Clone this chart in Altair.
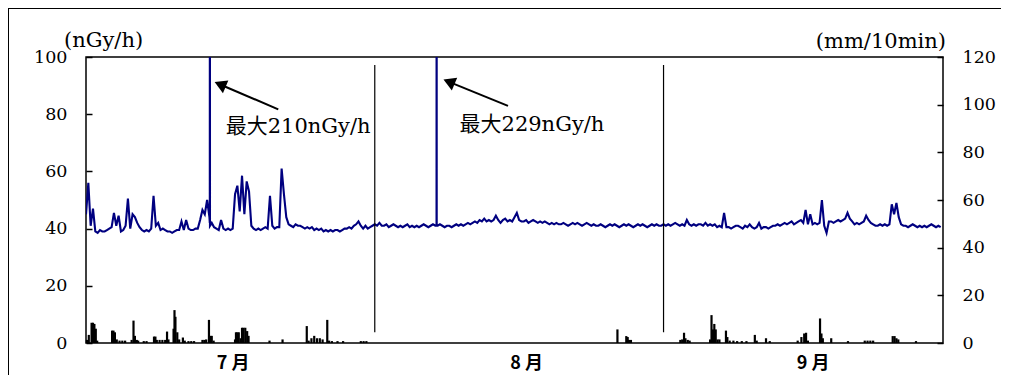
import altair as alt
import pandas as pd

# ---- dose rate (nGy/h), 4 readings per day (00, 06, 12, 18 h) ----
dose_jul = [
    45, 56, 41, 47,  39, 38.5, 39.5, 39,  39, 39.5, 40, 40.5,  45.5, 41, 44.5, 39,
    39.5, 41, 50.5, 40,  45, 44, 42, 40.5,  39.5, 39, 39.5, 39,  40, 51.5, 41, 42,
    39.5, 40, 39.5, 39,  39, 38.5, 39, 39.5,  39.5, 42.5, 39.5, 43,  40, 39.5, 39.5, 40,
    40, 43, 46.5, 45,  50, 44, 42, 40.5,  40, 39.5, 43, 40,  39.5, 40, 39.5, 40,
    52, 55, 46, 58.5,  45, 56.5, 53, 41,  40, 39.5, 40, 39.5,  40, 40.5, 40, 51.5,
    41, 40, 40.5, 40.5,  61, 52, 44, 41.5,  41, 40.5, 41.5, 41,  41, 40.5, 40, 40.5,
    40, 40.5, 39.5, 40,  39.5, 40, 39, 39.5,  39, 39.5, 39, 39.5,  39.5, 39, 39.5, 40,
    40, 40.5, 40, 41,  41.5, 42.5, 41, 40,  41, 40, 40.5, 41,
]
dose_aug = [
    41.5, 41, 42, 41,  41, 41.5, 40.5, 41,  41.5, 41, 40.5, 41,  40.5, 41, 41.5, 40.5,
    41, 40.5, 41, 40.5,  41, 41.5, 41, 40.5,  41, 41.5, 41, 41,  41.5, 41, 40.5, 41,
    41, 40.5, 41, 41.5,  41, 41.5, 41, 41.5,  42, 41.5, 42, 42.5,  42, 43, 42.5, 43.5,
    42.5, 43, 42.5, 43,  44.5, 43, 42, 43,  43.5, 42.5, 43, 42.5,  44, 45.5, 43, 42.5,
    42.5, 43, 42, 42.5,  43, 42.5, 42, 42.5,  42, 42.5, 42, 41.5,  42, 41.5, 42, 41.5,
    41.5, 42, 41.5, 41,  41.5, 42, 41.5, 42,  41.5, 41, 41.5, 42,  41.5, 41, 41.5, 41,
    41, 41.5, 41, 40.5,  41, 41.5, 41, 41.5,  41, 40.5, 41, 41.5,  41, 41.5, 41, 40.5,
    41, 41.5, 41, 41.5,  41, 40.5, 41, 41.5,  41, 41.5, 41, 41,
]
dose_sep = [
    41.5, 41, 41.5, 41,  41.5, 42, 41.5, 41,  41.5, 41, 43, 41.5,  41, 41.5, 41, 41.5,
    41.5, 41, 42, 41,  41.5, 41, 41.5, 40.5,  41, 40.5, 45.5, 40.5,  40.5, 40, 40.5, 41,
    41, 40.5, 40, 41,  40.5, 41.5, 40.5, 40,  40.5, 42, 40, 40.5,  40.5, 40, 40.5, 41,
    41, 41.5, 41, 41.5,  42, 41.5, 42, 42.5,  41.5, 42, 42.5, 43,  42, 46.5, 41.5, 45,
    41.5, 42, 41.5, 42,  50, 41, 38.5, 42.5,  42.5, 42, 42.5, 43,  42.5, 43, 43.5, 45.5,
    43.5, 42.5, 41.5, 42,  41.5, 42, 42.5, 44.5,  43, 42, 41.5, 41,  41, 41.5, 41, 41.5,
    41, 41.5, 48.5, 45,  49, 44, 41.5, 41,  41, 40.5, 41, 41.5,  41, 40.5, 41, 40.5,
    41, 40.5, 41, 41.5,  41, 40.5, 41, 40.5,
]

# ---- the two short maxima (10-min readings) ----
spike_day = [13.29, 13.30, 13.31, 37.63, 37.64, 37.65]
spike_val = [42, 210, 41, 41, 229, 41]

# ---- rainfall (mm/10min): day offset from Jul 1, amount ----
rain_day = [0.1, 0.3, 0.6, 0.75, 0.9, 1.05, 1.2,
            2.8, 2.95, 3.1, 3.3, 3.6, 3.9, 4.2,
            4.9, 5.1, 5.25, 5.45, 5.6, 6.2, 6.5,
            7.3, 7.45, 7.6, 7.9, 8.2, 8.5, 8.7, 8.85,
            9.4, 9.5, 9.6, 9.8, 10.0, 10.4, 10.6, 11.0, 11.3, 11.6,
            12.5, 12.7, 12.9, 13.2, 13.35, 13.5, 13.7,
            16.0, 16.1, 16.25, 16.4, 16.6, 16.75, 16.9, 17.1, 17.3, 17.45,
            19.7, 21.1,
            23.7, 23.9, 24.2, 24.5, 24.8, 25.1, 25.4, 25.9, 26.1, 26.4, 27.0, 27.6,
            29.5, 29.8, 30.1,
            57.05, 58.0, 58.15, 58.3, 58.5,
            63.8, 64.0, 64.2, 64.35, 64.6, 64.8,
            67.0, 67.15, 67.3, 67.45, 67.6, 67.8, 68.0,
            68.7, 68.85, 69.1, 69.5, 69.9, 70.4, 70.9,
            71.8, 72.0, 73.0, 73.4,
            76.4, 76.8, 77.1, 77.3, 77.5,
            78.8, 78.95, 79.1, 80.0, 81.8,
            83.6, 83.9, 84.2, 84.5,
            86.6, 86.8, 87.0, 87.2, 89.1]
rain_mm = [1.3, 3.4, 8.5, 8.5, 8, 6, 1,
           5.2, 5.2, 4.5, 1.5, 1, 1, 1,
           1.3, 9.4, 3, 1.3, 1, 0.8, 0.8,
           2.7, 2.7, 1.3, 1.3, 1.3, 1.3, 4.8, 1.5,
           6, 13.8, 11, 4.5, 1.5, 2.3, 1, 0.8, 0.8, 0.8,
           1.3, 1.3, 1.5, 9.7, 3, 3, 1,
           1.5, 4.5, 4.5, 4.5, 2, 6.4, 6.4, 6.4, 5, 3,
           1, 1.5,
           7.1, 1, 2, 3, 2, 2, 1.5, 9.7, 1, 0.8, 0.8, 0.8,
           0.8, 0.8, 0.8,
           5.7, 2.9, 2.5, 1.3, 1.3,
           1.3, 1.5, 4.3, 2, 1.3, 1,
           1.5, 11.7, 5.7, 8, 5.7, 1.5, 1.5,
           5.2, 2.5, 1, 1, 0.8, 0.8, 0.8,
           3.4, 1, 2, 0.8,
           1, 2.5, 4.0, 4.3, 1,
           10.3, 4, 2, 2, 0.8,
           1, 1, 1, 1,
           2.9, 2.9, 2, 1.5, 0.8]

month_pos = [15.75, 47.25, 78]
month_labels = ["7 月", "8 月", "9 月"]
left_ticks = [0, 20, 40, 60, 80, 100]
right_ticks = [0, 20, 40, 60, 80, 100, 120]
sep_days = [31, 62]
sep_top = [97.2, 97.2]
sep_bottom = [3.8, 3.8]
ann_text = ["最大210nGy/h", "最大229nGy/h"]
ann_day = [15.0, 40.1]
ann_val = [75.5, 76.2]
arrow_tail_day = [20.64, 45.3]
arrow_tail_val = [81.7, 82.9]
arrow_head_day = [14.4, 38.97]
arrow_head_val = [90.4, 91.3]

dose = dose_jul + dose_aug + dose_sep
base_df = pd.DataFrame({"day": [i * 0.25 for i in range(len(dose))], "dose": dose})
spk_df = pd.DataFrame({"day": spike_day, "dose": spike_val})
dose_df = pd.concat([base_df, spk_df]).sort_values("day").reset_index(drop=True)
rain_df = pd.DataFrame({"day": rain_day, "rain": rain_mm})
sep_df = pd.DataFrame({"day": sep_days, "top": sep_top, "bottom": sep_bottom})
ann_df = pd.DataFrame({"day": ann_day, "val": ann_val, "text": ann_text})
arr_df = pd.DataFrame({"d1": arrow_tail_day, "v1": arrow_tail_val,
                       "d2": arrow_head_day, "v2": arrow_head_val})

SERIF = "DejaVu Serif, Noto Sans CJK JP"
xscale = alt.Scale(domain=[0, 92], nice=False, zero=False)
yL = alt.Scale(domain=[0, 100], nice=False)
yR = alt.Scale(domain=[0, 120], nice=False)

label_expr = " : ".join(
    f"datum.value < {p + 10} ? '{l}'" for p, l in zip(month_pos[:-1], month_labels[:-1])
) + f" : '{month_labels[-1]}'"

xaxis = alt.Axis(values=month_pos, labelExpr=label_expr, ticks=False, domain=False,
                 grid=False, labelFont="Noto Sans CJK JP", labelFontSize=18,
                 labelFontWeight="bold", labelColor="black", labelPadding=11,
                 labelFlush=False, title=None)
laxis = alt.Axis(orient="left", values=left_ticks, offset=-6, tickSize=6, domain=False,
                 grid=False, labelFont="DejaVu Serif", labelFontSize=17.5,
                 labelColor="black", labelPadding=19, tickColor="black", tickWidth=1.5,
                 title=None)
raxis = alt.Axis(orient="right", values=right_ticks, offset=-6, tickSize=6, domain=False,
                 grid=False, labelFont="DejaVu Serif", labelFontSize=17.5,
                 labelColor="black", labelPadding=19, tickColor="black", tickWidth=1.5,
                 title=None)

def X(field):
    return alt.X(f"{field}:Q", scale=xscale, axis=xaxis)

def YL(field):
    return alt.Y(f"{field}:Q", scale=yL, axis=laxis)

rain = alt.Chart(rain_df).mark_rule(color="black", strokeWidth=2.2).encode(
    x=X("day"), y=alt.Y("rain:Q", scale=yR, axis=raxis), y2=alt.datum(0))

line = alt.Chart(dose_df).mark_line(color="#000080", strokeWidth=2.1, clip=True).encode(
    x=X("day"), y=YL("dose"), order="day:Q")

seps = alt.Chart(sep_df).mark_rule(color="black", strokeWidth=1.2).encode(
    x=X("day"), y=YL("top"), y2="bottom:Q")

arrows = alt.Chart(arr_df).mark_rule(color="black", strokeWidth=2).encode(
    x=X("d1"), y=YL("v1"), x2="d2:Q", y2="v2:Q")

heads = alt.Chart(arr_df).mark_point(shape="triangle-up", filled=True, color="black",
                                     opacity=1, size=190, angle=293).encode(
    x=X("d2"), y=YL("v2"))

texts = alt.Chart(ann_df).mark_text(align="left", baseline="middle", font=SERIF,
                                    fontSize=21, color="black").encode(
    x=X("day"), y=YL("val"), text="text:N")

unit_l = alt.Chart(pd.DataFrame({"t": ["(nGy/h)"]})).mark_text(
    align="left", baseline="middle", font=SERIF, fontSize=21, color="black").encode(
    x=alt.value(-22), y=alt.value(-16), text="t:N")
unit_r = alt.Chart(pd.DataFrame({"t": ["(mm/10min)"]})).mark_text(
    align="right", baseline="middle", font=SERIF, fontSize=21, color="black").encode(
    x=alt.value(860), y=alt.value(-15), text="t:N")

frame_left = alt.Chart(pd.DataFrame({"a": [0]})).mark_rule(color="black", strokeWidth=1).encode(
    x=alt.value(-77.5), y=alt.value(-49), y2=alt.value(340))
frame_top = alt.Chart(pd.DataFrame({"a": [0]})).mark_rule(color="black", strokeWidth=1).encode(
    x=alt.value(-78), x2=alt.value(930), y=alt.value(-48.5))

left_layer = alt.layer(line, seps, arrows, heads, texts, unit_l, unit_r, frame_left, frame_top)

chart = alt.layer(rain, left_layer).resolve_scale(y="independent").properties(
    width=857, height=286,
    padding={"left": 78, "top": 49, "right": 58, "bottom": 32},
    autosize=alt.AutoSizeParams(type="none"),
    background="white",
).configure_view(stroke="black", strokeWidth=1.5)

chart.save("out.html", embed_options={"renderer": "svg", "actions": False})
